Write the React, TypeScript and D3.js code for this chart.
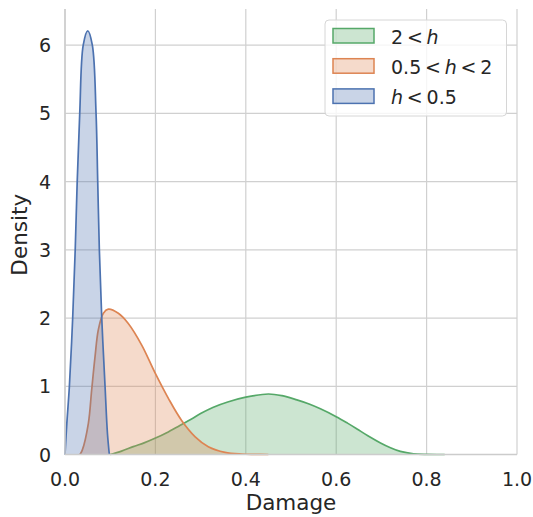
import React from 'react';
import * as d3 from 'd3';

// density curves (damage -> density)
const lowX = [0, 0.004, 0.0097, 0.017, 0.0226, 0.027, 0.0326, 0.0403, 0.0503, 0.0605, 0.0687, 0.0724, 0.076, 0.0813, 0.0886, 0.094, 0.0981];
const lowY = [0, 0.45, 1, 2, 3, 4, 5, 6, 6.21, 6, 5, 4, 3, 2, 1, 0.3, 0];

const midX = [0.033, 0.038, 0.0517, 0.059, 0.0664, 0.0738, 0.0849, 0.0959, 0.118, 0.14, 0.17, 0.199, 0.229, 0.258, 0.288, 0.317, 0.354, 0.391, 0.42, 0.45];
const midY = [0, 0.06, 0.457, 0.946, 1.43, 1.83, 2.07, 2.13, 2.07, 1.92, 1.6, 1.2, 0.82, 0.5, 0.26, 0.115, 0.032, 0.007, 0.002, 0];

const highX = [0.1, 0.125, 0.151, 0.175, 0.199, 0.225, 0.255, 0.28, 0.3, 0.327, 0.36, 0.4, 0.45, 0.48, 0.513, 0.54, 0.565, 0.6, 0.625, 0.646, 0.67, 0.698, 0.72, 0.742, 0.771, 0.8, 0.84];
const highY = [0, 0.05, 0.115, 0.17, 0.237, 0.32, 0.43, 0.52, 0.6, 0.69, 0.77, 0.84, 0.887, 0.862, 0.8, 0.74, 0.67, 0.555, 0.46, 0.375, 0.275, 0.17, 0.1, 0.045, 0.01, 0.001, 0];

const xTicks = [0, 0.2, 0.4, 0.6, 0.8, 1.0];
const yTicks = [0, 1, 2, 3, 4, 5, 6];

const series = [
  { name: 'high', xs: highX, ys: highY, color: '#55A868' },
  { name: 'mid', xs: midX, ys: midY, color: '#DD8452' },
  { name: 'low', xs: lowX, ys: lowY, color: '#4C72B0' },
];

const font = 'DejaVu Sans, sans-serif';

export default function App() {
  const width = 533;
  const height = 517;
  const margin = { left: 65, right: 16, top: 9, bottom: 62.5 };

  const x = d3.scaleLinear().domain([0, 1]).range([margin.left, width - margin.right]);
  const y = d3.scaleLinear().domain([0, 6.53]).range([height - margin.bottom, margin.top]);

  const curve = d3.curveCatmullRom.alpha(0.5);
  const area = d3.area<[number, number]>()
    .x(d => x(d[0]))
    .y0(y(0))
    .y1(d => Math.min(y(d[1]), y(0)))
    .curve(curve);
  const line = d3.line<[number, number]>()
    .x(d => x(d[0]))
    .y(d => y(d[1]))
    .curve(curve);

  const legendItems = [
    { color: '#55A868', parts: ['2', '<', 'h'] },
    { color: '#DD8452', parts: ['0.5', '<', 'h', '<', '2'] },
    { color: '#4C72B0', parts: ['h', '<', '0.5'] },
  ];

  return (
    <svg width={width} height={height} style={{ position: 'absolute', left: 0, top: 0 }}>
      <rect width={width} height={height} fill="#fff" />
      {/* grid */}
      {xTicks.map(t => (
        <line key={'gx' + t} x1={x(t)} x2={x(t)} y1={y(0)} y2={margin.top} stroke="#d0d0d0" strokeWidth={1.2} />
      ))}
      {yTicks.map(t => (
        <line key={'gy' + t} x1={x(0)} x2={x(1)} y1={y(t)} y2={y(t)} stroke="#d0d0d0" strokeWidth={1.2} />
      ))}
      {/* curves */}
      {series.map(s => {
        const pts: [number, number][] = s.xs.map((v, i) => [v, s.ys[i]]);
        return (
          <g key={s.name}>
            <path d={area(pts) || ''} fill={s.color} fillOpacity={0.3} />
            <path d={line(pts) || ''} fill="none" stroke={s.color} strokeWidth={1.7} />
          </g>
        );
      })}
      {/* spines */}
      <line x1={x(0)} x2={x(0)} y1={margin.top} y2={y(0)} stroke="#cccccc" strokeWidth={1.5} />
      <line x1={x(0)} x2={x(1)} y1={y(0)} y2={y(0)} stroke="#cccccc" strokeWidth={1.5} />
      {/* tick labels */}
      {xTicks.map(t => (
        <text key={'tx' + t} x={x(t)} y={y(0) + 31} textAnchor="middle" fontFamily={font} fontSize={19} fill="#262626">
          {t.toFixed(1)}
        </text>
      ))}
      {yTicks.map(t => (
        <text key={'ty' + t} x={x(0) - 14} y={y(t) + 7} textAnchor="end" fontFamily={font} fontSize={19} fill="#262626">
          {t}
        </text>
      ))}
      <text x={(x(0) + x(1)) / 2} y={510} textAnchor="middle" fontFamily={font} fontSize={21.5} fill="#262626">Damage</text>
      <text transform={`translate(27,${(y(0) + margin.top) / 2 + 3}) rotate(-90)`} textAnchor="middle" fontFamily={font} fontSize={21.5} fill="#262626">Density</text>
      {/* legend */}
      <rect x={325} y={20} width={181.5} height={96} rx={4} fill="#fff" fillOpacity={0.8} stroke="#d6d6d6" strokeWidth={1} />
      {legendItems.map((it, i) => (
        <g key={i} transform={`translate(0,${i * 30.2})`}>
          <rect x={333} y={28.5} width={41} height={14.5} fill={it.color} fillOpacity={0.3} stroke={it.color} strokeWidth={1.5} />
          <text x={391} y={43.5} fontFamily={font} fontSize={19} fill="#262626">
            {it.parts.map((p, j) => (
              <tspan key={j} fontStyle={p === 'h' ? 'italic' : 'normal'}>
                {(j > 0 ? '\u2009' : '') + p}
              </tspan>
            ))}
          </text>
        </g>
      ))}
    </svg>
  );
}
